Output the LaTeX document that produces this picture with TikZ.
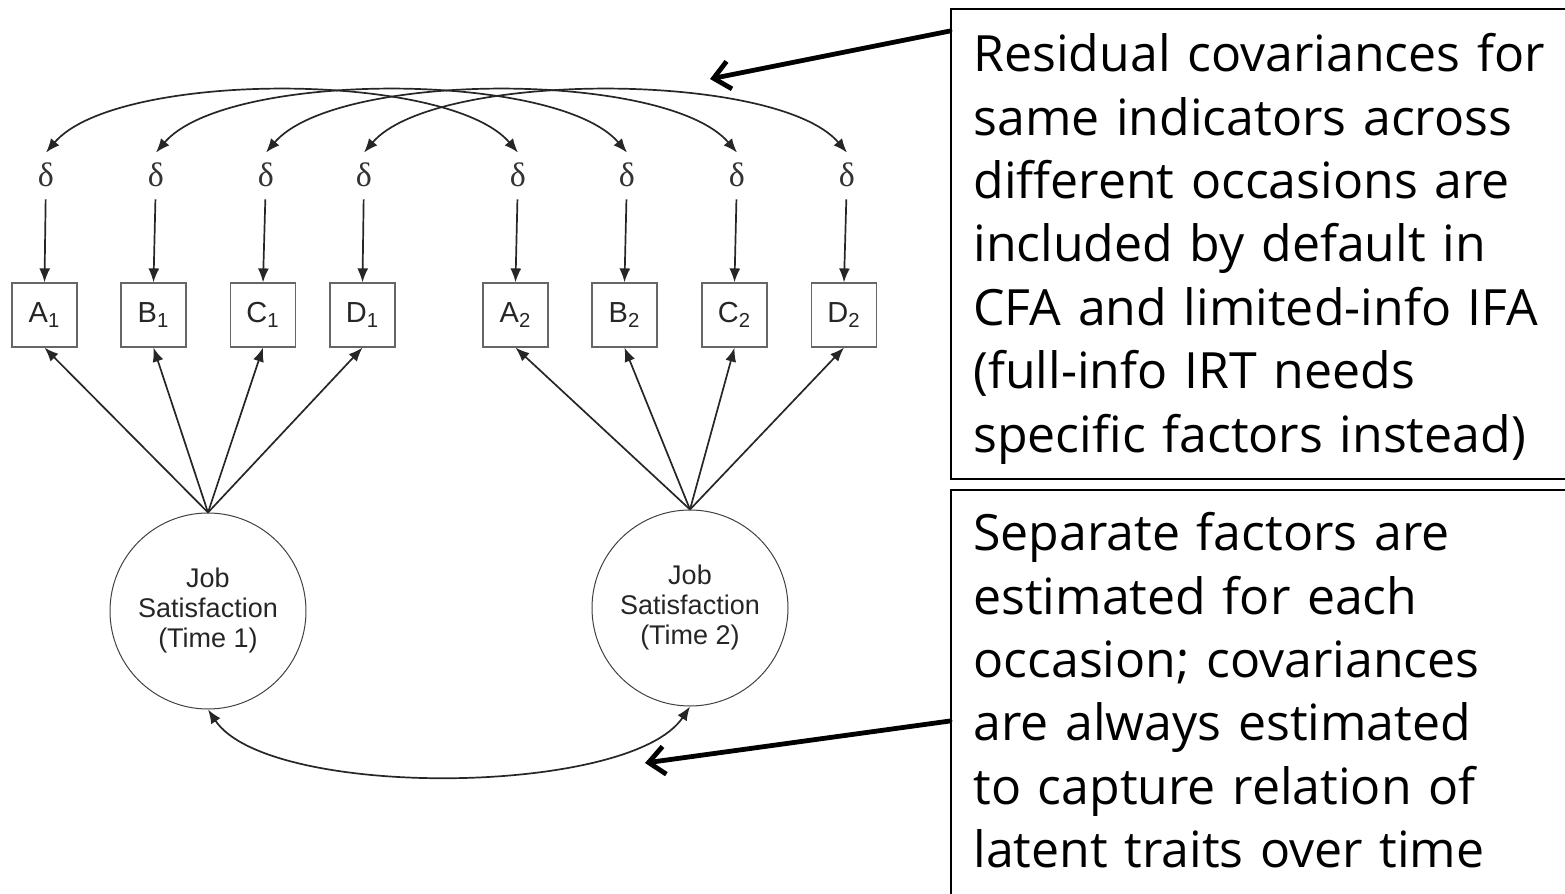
\documentclass[tikz,border=0pt]{standalone}
\usepackage{fontspec}
\setmainfont{Liberation Sans}
\newfontfamily\notefont{Open Sans}
\newfontfamily\deltafont{Liberation Serif}
\usetikzlibrary{arrows.meta,positioning}

\begin{document}
\begin{tikzpicture}[
        x=0.5pt, y=-0.5pt,
        err/.style={inner sep=1pt, font=\deltafont\fontsize{17}{17}\selectfont, text=black!80},
        item/.style={draw=black!60, line width=0.6pt, minimum width=32.5pt, minimum height=32pt, inner sep=0pt, font=\fontsize{14.5}{16}\selectfont, text=black!85},
        factor/.style={draw=black!75, line width=0.5pt, circle, minimum size=98pt, inner sep=0pt, align=center, font=\fontsize{13.5}{15}\selectfont, text=black!85},
        load/.style={draw=black!85, line width=0.85pt, -{Latex[length=7pt,width=5.5pt]}},
        cov/.style={draw=black!85, line width=0.85pt, {Latex[length=7pt,width=5.5pt]}-{Latex[length=7pt,width=5.5pt]}},
        notebox/.style={draw, line width=1pt, anchor=north west, minimum width=400pt},
        note/.style={anchor=north west, inner sep=0pt, align=left, text width=330pt, font=\notefont\fontsize{25}{31.7}\selectfont},
        callout/.style={line width=2.4pt, line cap=round, -{Straight Barb[length=8pt,width=14pt]}},
    ]
    \useasboundingbox (0,0) rectangle (1565,894);

    % residuals
    \node[err] (e1) at (46,175) {δ};
    \node[err] (e2) at (156,175) {δ};
    \node[err] (e3) at (266,175) {δ};
    \node[err] (e4) at (364,175) {δ};
    \node[err] (e5) at (518,175) {δ};
    \node[err] (e6) at (627,175) {δ};
    \node[err] (e7) at (737,175) {δ};
    \node[err] (e8) at (847,175) {δ};

    % indicators
    \node[item] (i1) at (44.5,315) {A\textsubscript{1}};
    \node[item] (i2) at (153.5,315) {B\textsubscript{1}};
    \node[item] (i3) at (263,315) {C\textsubscript{1}};
    \node[item] (i4) at (362.5,315) {D\textsubscript{1}};
    \node[item] (i5) at (515.5,315) {A\textsubscript{2}};
    \node[item] (i6) at (624.5,315) {B\textsubscript{2}};
    \node[item] (i7) at (734.5,315) {C\textsubscript{2}};
    \node[item] (i8) at (844,315) {D\textsubscript{2}};

    % factors
    \node[factor] (f1) at (208,611) {Job\\Satisfaction\\(Time 1)};
    \node[factor] (f2) at (690,608) {Job\\Satisfaction\\(Time 2)};

    \foreach \k in {1,...,8}
        \draw[load, shorten <=5pt] (e\k) -- (i\k.north);
    \foreach \k in {1,...,4}
        \draw[load] (f1.north) -- (i\k.south);
    \foreach \k in {5,...,8}
        \draw[load] (f2.north) -- (i\k.south);

    % residual covariances
    \foreach \a/\b in {1/5,2/6,3/7,4/8}
        \draw[cov] ([yshift=4pt]e\a.north) .. controls +(70,-82) and +(-70,-82) .. ([yshift=4pt]e\b.north);
    % factor covariance
    \draw[cov] (f1.south) .. controls +(60,90) and +(-60,90) .. (f2.south);

    % notes
    \node[notebox, minimum height=235pt] (box1) at (950,8) {};
    \node[notebox, minimum height=250pt] (box2) at (950,489) {};
    \node[note] (txt1) at (973,33) {Residual covariances for\\same indicators across\\different occasions are\\included by default in\\CFA and limited-info IFA\\(full-info IRT needs\\specific factors instead)};
    \node[note] (txt2) at (973,512) {Separate factors are\\estimated for each\\occasion; covariances\\are always estimated\\to capture relation of\\latent traits over time};

    \coordinate (tip1) at (710,79);
    \coordinate (tip2) at (645,763);
    \draw[callout] (box1.north west |- 0,31) -- (tip1);
    \draw[callout] (box2.north west |- 0,721) -- (tip2);
\end{tikzpicture}
\end{document}
